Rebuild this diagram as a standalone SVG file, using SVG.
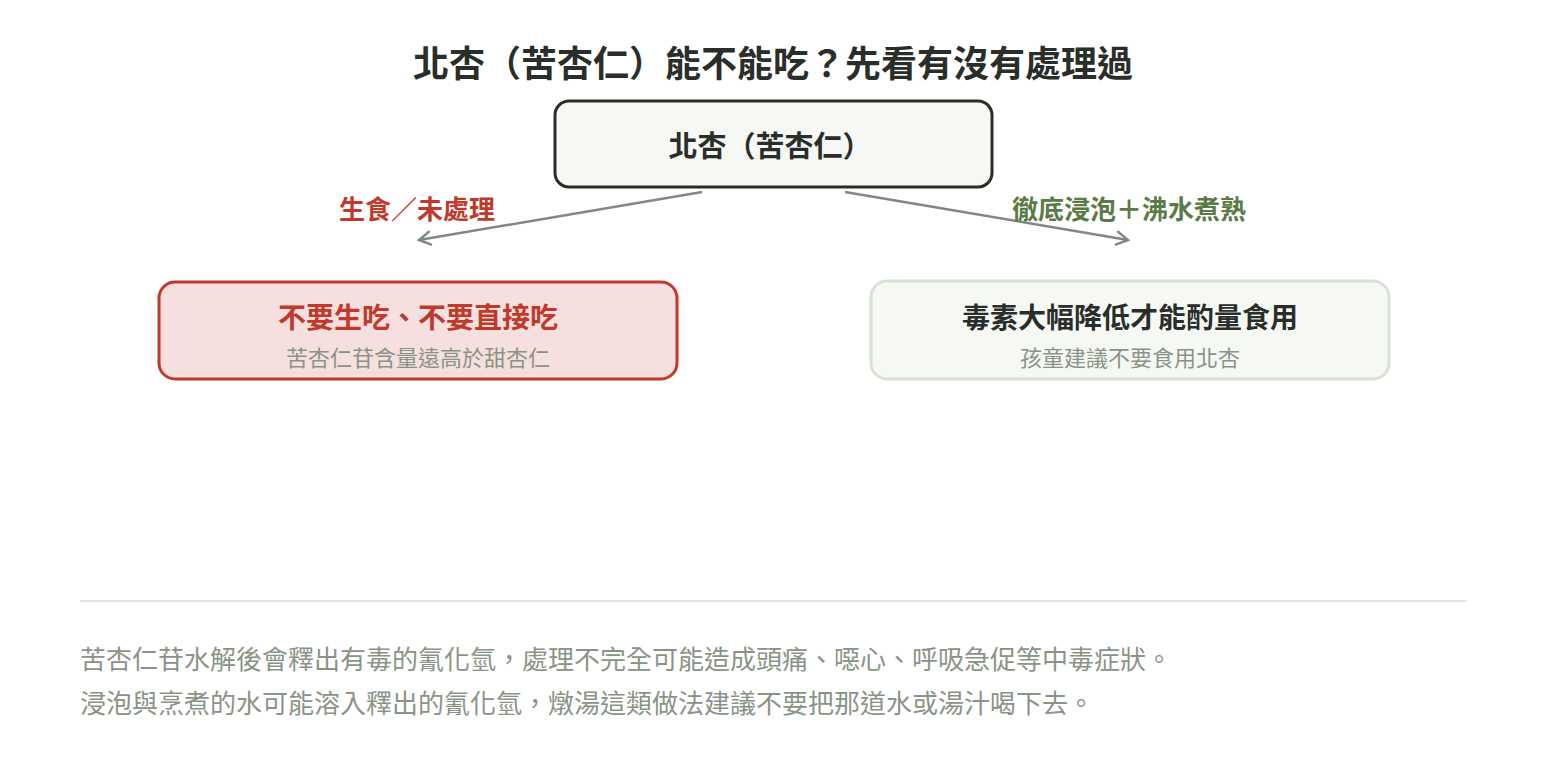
<svg xmlns="http://www.w3.org/2000/svg" width="1546" height="760" viewBox="0 0 1546 760">
<defs>
<style>
text{font-family:"Noto Sans CJK TC","Noto Sans CJK SC",sans-serif;}
.title{font-size:36px;font-weight:700;fill:#2a2e2a;}
.h{font-size:28px;font-weight:700;}
.sub{font-size:22px;fill:#8a9486;}
.lbl{font-size:26px;font-weight:700;}
.foot{font-size:26px;fill:#8a9486;}
.conn{stroke:#7e8a7e;stroke-width:2.5;fill:none;}
</style>
<marker id="arr" viewBox="0 0 16 16" refX="14" refY="8" markerWidth="16" markerHeight="16" markerUnits="userSpaceOnUse" orient="auto">
<path d="M2,1 L14,8 L2,15" fill="none" stroke="#7e8a7e" stroke-width="2.5"/>
</marker>
</defs>
<rect width="1546" height="760" fill="#ffffff"/>
<text class="title" x="773" y="77" text-anchor="middle">北杏（苦杏仁）能不能吃？先看有沒有處理過</text>
<g id="connectors">
<line class="conn" x1="702" y1="192" x2="419" y2="240" marker-end="url(#arr)"/>
<line class="conn" x1="845" y1="192" x2="1128" y2="240" marker-end="url(#arr)"/>
<text class="lbl" x="417" y="219" text-anchor="middle" fill="#c0392b">生食／未處理</text>
<text class="lbl" x="1129" y="219" text-anchor="middle" fill="#5a7a46">徹底浸泡＋沸水煮熟</text>
</g>
<g id="root">
<rect x="555" y="101" width="437" height="86" rx="14" fill="#f6f8f4" stroke="#2a2e2a" stroke-width="3"/>
<text class="h" x="770" y="157" text-anchor="middle" fill="#2a2e2a" style="font-size:29px">北杏（苦杏仁）</text>
</g>
<g id="raw">
<rect x="159" y="282" width="518" height="97" rx="16" fill="#f5e0df" stroke="#c0392b" stroke-width="3"/>
<text class="h" x="418" y="328" text-anchor="middle" fill="#c0392b">不要生吃、不要直接吃</text>
<text class="sub" x="418" y="366" text-anchor="middle">苦杏仁苷含量遠高於甜杏仁</text>
</g>
<g id="cooked">
<rect x="871" y="281" width="518" height="98" rx="16" fill="#f6f8f4" stroke="#d8e2d2" stroke-width="3"/>
<text class="h" x="1130" y="328" text-anchor="middle" fill="#2a2e2a">毒素大幅降低才能酌量食用</text>
<text class="sub" x="1130" y="366" text-anchor="middle">孩童建議不要食用北杏</text>
</g>
<line x1="80" y1="601" x2="1466" y2="601" stroke="#dde3d8" stroke-width="2"/>
<text class="foot" x="80" y="669">苦杏仁苷水解後會釋出有毒的氰化氫，處理不完全可能造成頭痛、噁心、呼吸急促等中毒症狀。</text>
<text class="foot" x="80" y="713">浸泡與烹煮的水可能溶入釋出的氰化氫，燉湯這類做法建議不要把那道水或湯汁喝下去。</text>
</svg>
